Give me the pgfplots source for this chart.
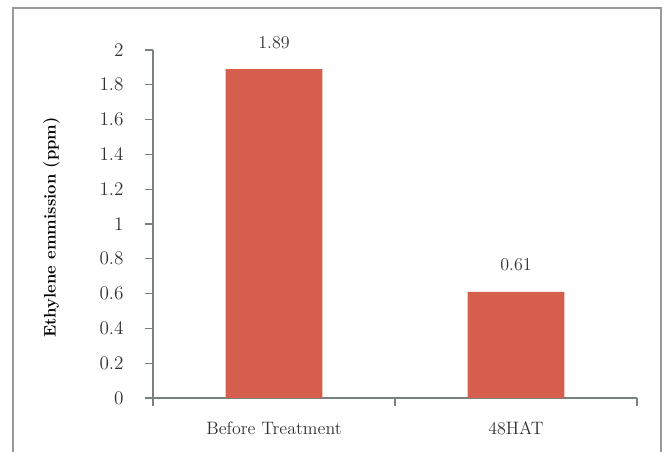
\documentclass[border=0pt]{standalone}
\usepackage{pgfplots}
\pgfplotsset{compat=1.18}
\definecolor{barred}{RGB}{214,94,76}
\definecolor{axisgray}{RGB}{120,128,128}
\definecolor{txt}{RGB}{50,50,50}
\begin{document}
\begin{tikzpicture}
  % canvas: 1 px of reference = 0.75pt
  \useasboundingbox (-114.75pt,-39.75pt) rectangle (384.75pt,298.5pt);
  \draw[gray!80, line width=1.2pt] (-105pt,-45pt) -- (-105pt,292.5pt) -- (381pt,292.5pt) -- (381pt,-45pt);
  \begin{axis}[
      at={(0pt,0pt)}, anchor=south west,
      scale only axis,
      width=363pt, height=261pt,
      xmin=0, xmax=2,
      ymin=0, ymax=2,
      axis lines*=left,
      axis line style={axisgray, line width=0.8pt},
      tick style={axisgray, line width=0.8pt},
      tick align=outside,
      major tick length=6pt,
      minor tick length=6pt,
      ytick={0,0.2,...,2.01},
      yticklabel style={/pgf/number format/fixed, /pgf/number format/precision=1, text=txt, xshift=-12.5pt},
      xtick={0.5,1.5},
      xticklabels={Before Treatment, 48HAT},
      major x tick style={draw=none},
      minor xtick={0,1,2},
      minor x tick style={axisgray, line width=0.8pt},
      xticklabel style={text=txt, yshift=-8pt},
      ticklabel style={font=\fontsize{13.5}{16}\selectfont},
      ylabel={\textbf{Ethylene emmission (ppm)}},
      ylabel style={at={(axis description cs:-0.21,0.49)}, anchor=center, font=\fontsize{12.5}{15}\selectfont, text=black},
      ybar,
      bar width=0.4,
      nodes near coords,
      point meta=explicit symbolic,
      nodes near coords style={text=txt, font=\fontsize{13.5}{16}\selectfont, anchor=south, yshift=12pt},
    ]
    \addplot[fill=barred, draw=none] coordinates {
        (0.5,1.89) [1.89]
        (1.5,0.61) [0.61]
      };
  \end{axis}
\end{tikzpicture}
\end{document}
